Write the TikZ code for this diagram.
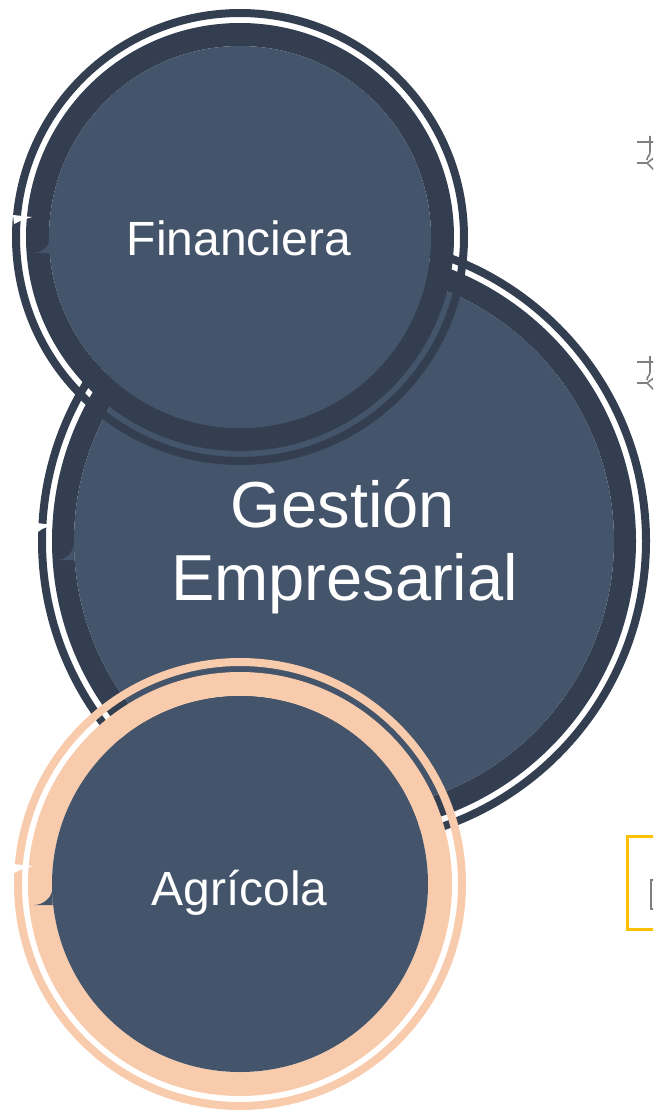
\documentclass[tikz,border=0pt]{standalone}
\usepackage{fontspec}
\setmainfont{Liberation Sans}
\definecolor{fillc}{HTML}{44546A}
\definecolor{ringc}{HTML}{333F50}
\definecolor{peach}{HTML}{F8CBAD}
\definecolor{gold}{HTML}{FFC000}
\definecolor{iconc}{HTML}{7F7F7F}
\tikzset{
  outerline/.style={line width=8pt},
  label/.style={text=white, inner sep=0pt, anchor=base},
  wedge/.style={fill=fillc},
  notch/.style={fill=white},
  iconline/.style={draw=iconc, line width=1.6pt}
}
\begin{document}
\begin{tikzpicture}[x=1pt,y=-1pt]
\useasboundingbox (0,0) rectangle (653,1110);
\clip (0,0) rectangle (653,1110);
% Gestion Empresarial
\draw[ringc, outerline] (344,541) circle (302pt);
\draw[ringc, line width=22pt] (344,541) circle (281pt);
\fill[fillc] (344,541) circle (270pt);
\fill[wedge] (57,560) .. controls (66.1,560) and (73.5,552.6) .. (73.5,543.5) -- (73.5,560) -- cycle;
\fill[notch] (37,523) -- (53,525) -- (42,529) -- (38,532) -- cycle;
% Financiera
\draw[ringc, outerline] (240,237) circle (224pt);
\draw[ringc, line width=23pt] (240,237) circle (202.5pt);
\fill[fillc] (240,237) circle (191pt);
\fill[wedge] (33,253) .. controls (42.7,253) and (50.5,245.2) .. (50.5,235.5) -- (50.5,253) -- cycle;
\fill[notch] (13,215) -- (32,217) -- (20,221) -- (14,224) -- cycle;
% Agricola
\draw[peach, outerline] (240,884) circle (222pt);
\draw[peach, line width=24pt] (240,884) circle (200pt);
\fill[fillc] (240,884) circle (188pt);
\fill[wedge] (34,905) .. controls (43.7,905) and (52.5,897.2) .. (52.5,887.5) -- (52.5,905) -- cycle;
\fill[notch] (13,864) -- (33,866) -- (20,870) -- (14,873) -- cycle;
% labels
\node[label, font=\fontsize{48}{58}\selectfont] (fin) at (239,255) {Financiera};
\node[label, font=\fontsize{65}{73}\selectfont] (ges) at (343,527) {Gestión};
\node[label, font=\fontsize{65}{73}\selectfont] (emp) at (344.5,600) {Empresarial};
\node[label, font=\fontsize{48}{58}\selectfont] (agr) at (239.5,905) {Agrícola};
% clipped icons at right edge
\foreach \dy in {0,220} {
  \draw[iconline] (637,142+\dy) -- (655,142+\dy);
  \draw[iconline] (650,136+\dy) -- (650,152+\dy) .. controls (650,156+\dy) and (647,156+\dy) .. (647,160+\dy);
  \draw[iconline] (637,163+\dy) -- (647,163+\dy) -- (655,157+\dy);
  \draw[iconline] (647,163+\dy) -- (655,171+\dy);
}
% yellow box at right edge
\draw[gold, line width=3pt] (627.5,836.5) rectangle (670,929.5);
\draw[iconc, line width=1.4pt] (651,880) rectangle (670,909);
\end{tikzpicture}
\end{document}
